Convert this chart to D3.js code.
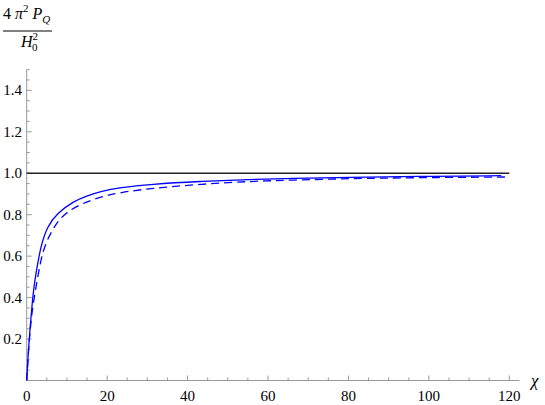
<!DOCTYPE html>
<html>
<head>
<meta charset="utf-8">
<script src="https://cdn.jsdelivr.net/npm/d3@7"></script>
<style>
  body { margin: 0; background: #fff; }
  text, tspan { font-family: "Liberation Serif", "Times New Roman", serif; }
</style>
</head>
<body>
<div id="chart_viz"></div>
<script>
// values
const solidX = [0, 0.4, 0.82, 1.3, 1.8, 2.6, 3.5, 5.1, 7.6, 11.8, 14.9, 18.2, 23.2, 30.7, 43.1, 55.6, 66, 80, 97, 118];
const solidY = [0, 0.14, 0.25, 0.36, 0.454, 0.55, 0.647, 0.743, 0.808, 0.866, 0.89, 0.911, 0.931, 0.947, 0.961, 0.97, 0.975, 0.98, 0.985, 0.988];
const dashX = [0, 0.4, 0.82, 1.5, 2.5, 3.5, 4.7, 6.8, 9.3, 13.4, 18.2, 23.2, 30.7, 43.1, 55.6, 66, 80, 97, 120];
const dashY = [0, 0.13, 0.24, 0.36, 0.47, 0.583, 0.663, 0.743, 0.805, 0.852, 0.885, 0.907, 0.927, 0.947, 0.961, 0.967, 0.974, 0.979, 0.982];
const refLevel = 1.0;
const xTicks = [0, 20, 40, 60, 80, 100, 120];
const yTicks = [0.2, 0.4, 0.6, 0.8, 1.0, 1.2, 1.4];

const width = 545, height = 405;

const svg = d3.select("#chart_viz")
  .append("svg")
    .attr("width", width)
    .attr("height", height)
    .attr("font-family", "Liberation Serif");

// scales, origin at (26.7, 380.5)
const x = d3.scaleLinear().domain([0, 120]).range([26.7, 509.3]);
const y = d3.scaleLinear().domain([0, 1.5]).range([380.5, 69.6]);

const axisColor = "#999";

// x axis line + ticks (drawn inward like Mathematica)
svg.append("line")
  .attr("x1", x(0)).attr("x2", x(122.5))
  .attr("y1", y(0)).attr("y2", y(0))
  .attr("stroke", axisColor).attr("stroke-width", 1);

const xMinor = d3.range(0, 121, 5);
svg.selectAll(".xt")
  .data(xMinor)
  .enter().append("line")
  .attr("x1", d => x(d)).attr("x2", d => x(d))
  .attr("y1", y(0))
  .attr("y2", d => y(0) - (d % 20 === 0 ? 5 : 3))
  .attr("stroke", axisColor);

svg.selectAll(".xl")
  .data(xTicks)
  .enter().append("text")
  .attr("x", d => x(d))
  .attr("y", 401)
  .attr("text-anchor", "middle")
  .attr("font-size", 15)
  .text(d => d);

// y axis line + ticks
svg.append("line")
  .attr("x1", x(0)).attr("x2", x(0))
  .attr("y1", y(0)).attr("y2", y(1.5))
  .attr("stroke", axisColor).attr("stroke-width", 1);

const yMinor = d3.range(1, 31).map(i => i * 0.05);
svg.selectAll(".yt")
  .data(yMinor)
  .enter().append("line")
  .attr("x1", x(0))
  .attr("x2", (d, i) => x(0) + ((i + 1) % 4 === 0 ? 5 : 3))
  .attr("y1", d => y(d)).attr("y2", d => y(d))
  .attr("stroke", axisColor);

svg.selectAll(".yl")
  .data(yTicks)
  .enter().append("text")
  .attr("x", 22)
  .attr("y", d => y(d) + 5)
  .attr("text-anchor", "end")
  .attr("font-size", 15)
  .text(d => d.toFixed(1));

// axis labels
svg.append("text")
  .attr("x", 531).attr("y", 386)
  .attr("font-size", 17)
  .attr("font-style", "italic")
  .text("\u03C7");

const lab = svg.append("g");
const num = lab.append("text").attr("x", 3).attr("y", 19).attr("font-size", 16);
num.append("tspan").text("4 ");
num.append("tspan").attr("font-style", "italic").text("\u03C0");
num.append("tspan").attr("font-size", 11).attr("dy", -7).text("2");
num.append("tspan").attr("font-style", "italic").attr("dy", 7).text(" P");
num.append("tspan").attr("font-style", "italic").attr("font-size", 11).attr("dy", 4).text("Q");
lab.append("line")
  .attr("x1", 3).attr("x2", 52).attr("y1", 31).attr("y2", 31)
  .attr("stroke", "#000").attr("stroke-width", 1);
const den = lab.append("text").attr("x", 21).attr("y", 47).attr("font-size", 16);
den.append("tspan").attr("font-style", "italic").text("H");
den.append("tspan").attr("font-size", 11).attr("dy", -7).text("2");
den.append("tspan").attr("font-size", 11).attr("dx", -6).attr("dy", 11).text("0");

// reference line at 1
svg.append("line")
  .attr("x1", x(0)).attr("x2", x(120))
  .attr("y1", y(refLevel)).attr("y2", y(refLevel))
  .attr("stroke", "#222").attr("stroke-width", 1.3);

const line = d3.line()
  .x(d => x(d[0]))
  .y(d => y(d[1]))
  .curve(d3.curveBasis);

svg.append("path")
  .datum(solidX.map((v, i) => [v, solidY[i]]))
  .attr("d", line)
  .attr("fill", "none")
  .attr("stroke", "#0000ff")
  .attr("stroke-width", 1.3);

svg.append("path")
  .datum(dashX.map((v, i) => [v, dashY[i]]))
  .attr("d", line)
  .attr("fill", "none")
  .attr("stroke", "#0000ff")
  .attr("stroke-width", 1.3)
  .attr("stroke-dasharray", "8,5");
</script>
</body>
</html>
